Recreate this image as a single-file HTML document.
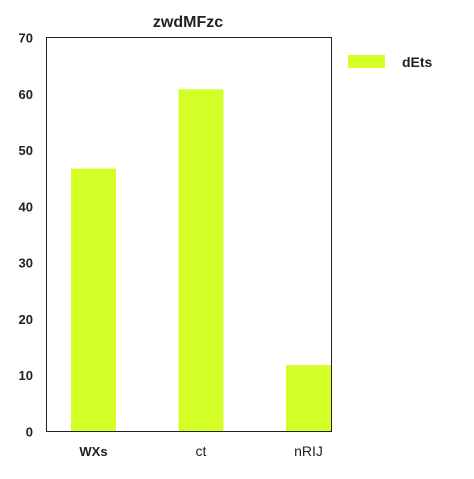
<!DOCTYPE html>
<html><head><meta charset="utf-8"><style>
body{margin:0;background:#fff;}
svg{font-family:"Liberation Sans",Arial,sans-serif;}
</style></head><body>
<svg id="chart" width="474" height="474">
<text x="188" y="27" text-anchor="middle" font-size="16" font-weight="bold" fill="#222">zwdMFzc</text>
<g id="bars"></g>
<g id="yticks"></g>
<g id="xticks"></g>
<rect x="46.5" y="37.5" width="285" height="394" fill="none" stroke="#222" stroke-width="1"/>
<g>
<rect x="348" y="55" width="37" height="13" fill="#d4ff26"/>
<text x="402" y="67" font-size="14" font-weight="bold" fill="#222">dEts</text>
</g>
</svg>
<script>
const categories=["WXs","ct","nRIJ"];
const values=[46.7,60.8,11.8];
const yTicks=[0,10,20,30,40,50,60,70];
const boldX=[true,false,false];
const NS="http://www.w3.org/2000/svg";
const top0=37.5,bot=431.5,yMax=70,left=46.5;
function y(v){return bot-(bot-top0)*v/yMax;}
function xc(i){return left+47+107.5*i;}
const bw=45;
const bars=document.getElementById('bars'),yt=document.getElementById('yticks'),xt=document.getElementById('xticks');
values.forEach((v,i)=>{
 const r=document.createElementNS(NS,'rect');
 r.setAttribute('x',xc(i)-bw/2);r.setAttribute('y',y(v));
 r.setAttribute('width',bw);r.setAttribute('height',bot-y(v));
 r.setAttribute('fill','#d4ff26');
 
 
 bars.appendChild(r);
 const t=document.createElementNS(NS,'text');
 t.setAttribute('x',xc(i));t.setAttribute('y',456);
 t.setAttribute('text-anchor','middle');
 t.setAttribute('font-size',boldX[i]?13:14);
 if(boldX[i])t.setAttribute('font-weight','bold');
 t.setAttribute('fill','#222');
 t.textContent=categories[i];
 
 
 xt.appendChild(t);
});
yTicks.forEach(v=>{
 const t=document.createElementNS(NS,'text');
 t.setAttribute('x',33);t.setAttribute('y',y(v)+5);
 t.setAttribute('text-anchor','end');t.setAttribute('font-size',13);
 t.setAttribute('font-weight','bold');t.setAttribute('fill','#222');
 t.textContent=v;
 
 
 yt.appendChild(t);
});
</script>
</body></html>
